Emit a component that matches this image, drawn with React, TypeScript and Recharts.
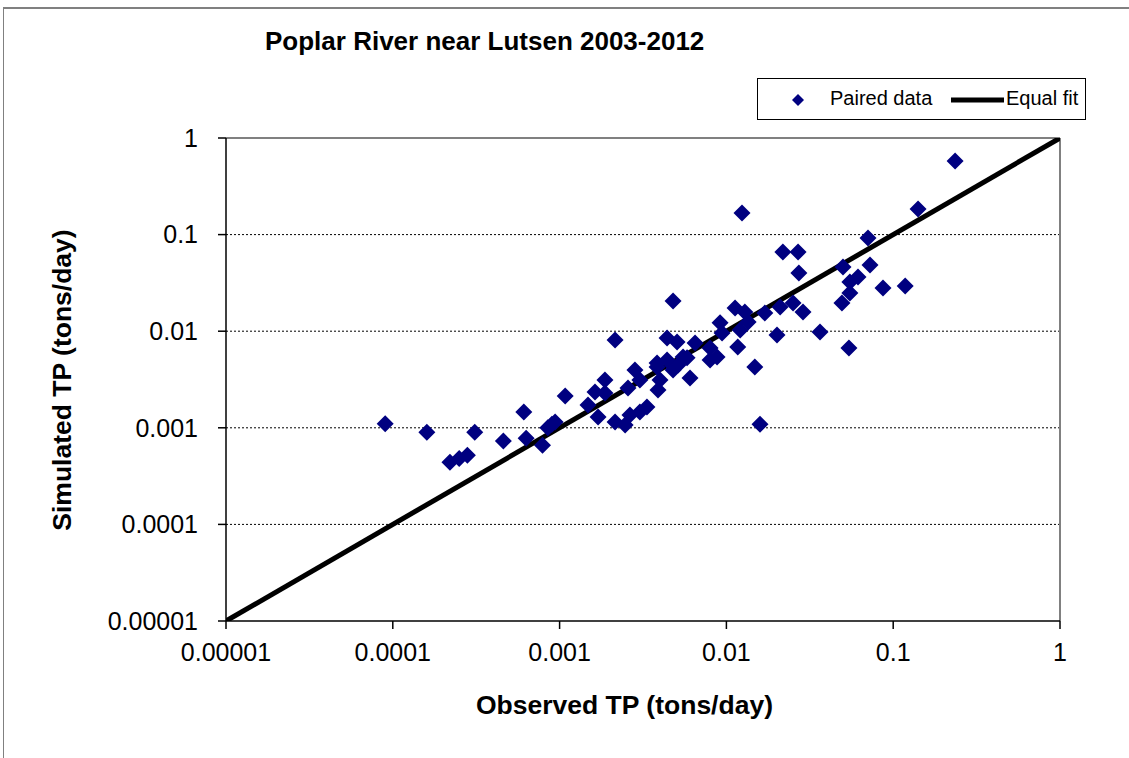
import React from 'react';
import {
    ScatterChart,
    Scatter,
    XAxis,
    YAxis,
    ReferenceLine,
} from 'recharts';

// ── Data ─────────────────────────────────────────────────────────────────────
const observedTP = [
    0.00009, 0.00016, 0.00031, 0.00022, 0.00025, 0.00028, 0.00046, 0.00061, 0.00063, 0.00079,
    0.00085, 0.00094, 0.00108, 0.00148, 0.00163, 0.0017, 0.00187, 0.00215, 0.00215, 0.00247,
    0.00264, 0.00257, 0.00283, 0.00303, 0.00303, 0.00334, 0.00384, 0.00389, 0.004, 0.00441,
    0.00441, 0.00479, 0.00479, 0.00506, 0.00513, 0.0055, 0.00581, 0.00605, 0.00649, 0.00798,
    0.00798, 0.00879, 0.00916, 0.00942, 0.01127, 0.0129, 0.0121, 0.0117, 0.0124, 0.0135,
    0.0148, 0.0159, 0.017, 0.0201, 0.021, 0.0218, 0.0251, 0.0269, 0.0272, 0.0288,
    0.0364, 0.0493, 0.05, 0.055, 0.055, 0.0543, 0.0615, 0.0706, 0.0726, 0.0869,
    0.118, 0.141, 0.235, 0.0009, 0.00384, 0.00187,
];

const simulatedTP = [
    0.0011, 0.0009, 0.0009, 0.00044, 0.00048, 0.00052, 0.00073, 0.00146, 0.00078, 0.00066,
    0.001, 0.00115, 0.00213, 0.00172, 0.00235, 0.00129, 0.00313, 0.0081, 0.00115, 0.00107,
    0.00136, 0.00258, 0.00396, 0.00313, 0.00146, 0.00164, 0.00469, 0.00246, 0.00313, 0.00504,
    0.0085, 0.0206, 0.00396, 0.00773, 0.00447, 0.00541, 0.0053, 0.00328, 0.00755, 0.0067,
    0.00504, 0.00541, 0.0122, 0.00958, 0.0174, 0.0158, 0.0103, 0.00686, 0.1675, 0.01245,
    0.00426, 0.00109, 0.0154, 0.00914, 0.0178, 0.066, 0.0196, 0.066, 0.04, 0.0158,
    0.00982, 0.0196, 0.0462, 0.0323, 0.0248, 0.0067, 0.0364, 0.0922, 0.0484, 0.028,
    0.0294, 0.184, 0.578, 0.00109, 0.00426, 0.00229,
];

const equalFit = [0.00001, 1];

const axisTicks = [0.00001, 0.0001, 0.001, 0.01, 0.1, 1];
const tickLabels = ['0.00001', '0.0001', '0.001', '0.01', '0.1', '1'];
const gridValues = [0.1, 0.01, 0.001, 0.0001];

const pairedData = observedTP.map((x, i) => ({ x, y: simulatedTP[i] }));
const fitData = equalFit.map(v => ({ x: v, y: v }));

const FONT = 'Arial, "Liberation Sans", sans-serif';
const NAVY = '#000080';

function Diamond({ cx, cy }: any) {
    if (cx == null || cy == null) return null;
    const r = 8.5;
    return (
        <polygon
            points={`${cx},${cy - r} ${cx + r},${cy} ${cx},${cy + r} ${cx - r},${cy}`}
            fill={NAVY}
        />
    );
}

const fmt = (v: number) => {
    const i = axisTicks.indexOf(v);
    return i >= 0 ? tickLabels[i] : String(v);
};

export default function App() {
    return (
        <div style={{ position: 'absolute', left: 0, top: 0, width: 1129, height: 758, background: '#fff', fontFamily: FONT }}>
            {/* outer chart frame */}
            <div style={{ position: 'absolute', left: 3, top: 7, width: 1140, height: 760, borderTop: '2px solid #808080', borderLeft: '1px solid #808080' }} />

            <div style={{ position: 'absolute', left: 0, top: 0 }}>
                <ScatterChart width={1129} height={758} margin={{ top: 138, right: 69, bottom: 77, left: 126 }}>
                    <XAxis
                        type="number"
                        dataKey="x"
                        scale="log"
                        domain={[0.00001, 1]}
                        ticks={axisTicks}
                        tickFormatter={fmt}
                        allowDataOverflow
                        height={60}
                        tick={{ fontSize: 25, fill: '#000', fontFamily: FONT }}
                        tickSize={8}
                        tickMargin={14}
                        axisLine={{ stroke: '#000', strokeWidth: 1.5 }}
                        tickLine={{ stroke: '#000', strokeWidth: 1.5 }}
                    />
                    <YAxis
                        type="number"
                        dataKey="y"
                        scale="log"
                        domain={[0.00001, 1]}
                        ticks={axisTicks}
                        tickFormatter={fmt}
                        allowDataOverflow
                        width={100}
                        tick={{ fontSize: 25, fill: '#000', fontFamily: FONT }}
                        tickSize={8}
                        tickMargin={20}
                        axisLine={{ stroke: '#000', strokeWidth: 1.5 }}
                        tickLine={{ stroke: '#000', strokeWidth: 1.5 }}
                    />
                    {gridValues.map(v => (
                        <ReferenceLine key={v} y={v} stroke="#000" strokeWidth={1} strokeDasharray="2 2" />
                    ))}
                    <ReferenceLine y={1} stroke="#808080" strokeWidth={2} />
                    <ReferenceLine x={1} stroke="#808080" strokeWidth={2} />
                    <Scatter
                        name="Equal fit"
                        data={fitData}
                        line={{ stroke: '#000', strokeWidth: 5 }}
                        shape={() => null}
                        isAnimationActive={false}
                    />
                    <Scatter
                        name="Paired data"
                        data={pairedData}
                        shape={<Diamond />}
                        isAnimationActive={false}
                    />
                </ScatterChart>
            </div>

            {/* title */}
            <div style={{ position: 'absolute', left: 265, top: 26, fontSize: 26, fontWeight: 'bold', whiteSpace: 'nowrap' }}>
                Poplar River near Lutsen 2003-2012
            </div>

            {/* legend */}
            <div style={{ position: 'absolute', left: 757, top: 78, width: 329, height: 42, border: '1px solid #000', boxSizing: 'border-box' }}>
                <svg width={329} height={42} style={{ position: 'absolute', left: 0, top: 0 }}>
                    <polygon points="40,15 46,21 40,27 34,21" fill={NAVY} />
                    <line x1={193} y1={21} x2={246} y2={21} stroke="#000" strokeWidth={5} />
                </svg>
                <div style={{ position: 'absolute', left: 72, top: 8, fontSize: 20, whiteSpace: 'nowrap' }}>Paired data</div>
                <div style={{ position: 'absolute', left: 248, top: 8, fontSize: 20, whiteSpace: 'nowrap' }}>Equal fit</div>
            </div>

            {/* axis titles */}
            <div style={{ position: 'absolute', left: 476, top: 690, fontSize: 26.5, fontWeight: 'bold', whiteSpace: 'nowrap' }}>
                Observed TP (tons/day)
            </div>
            <div
                style={{
                    position: 'absolute', left: 62, top: 380, fontSize: 26.5, fontWeight: 'bold', whiteSpace: 'nowrap',
                    transform: 'translate(-50%, -50%) rotate(-90deg)',
                }}
            >
                Simulated TP (tons/day)
            </div>
        </div>
    );
}
